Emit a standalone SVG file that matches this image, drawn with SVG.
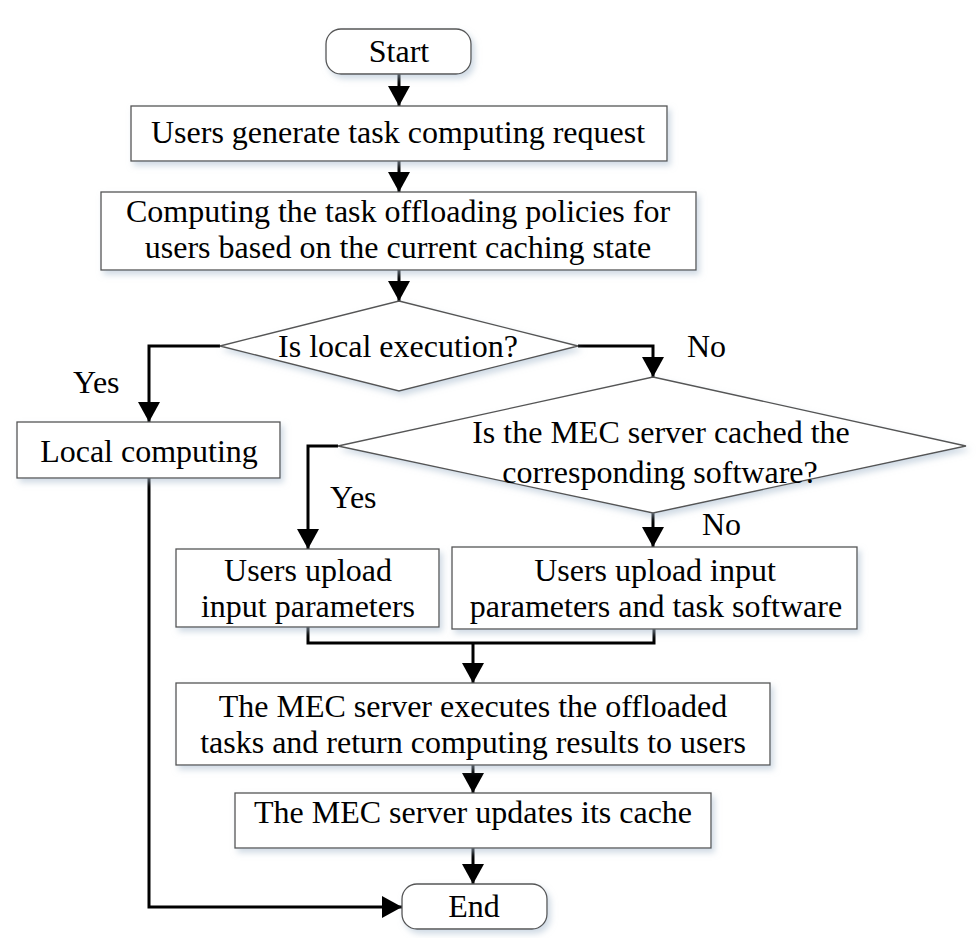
<svg xmlns="http://www.w3.org/2000/svg" width="977" height="938" viewBox="0 0 977 938">
<style>
.n{fill:#fff;stroke:#555;stroke-width:1.3;filter:url(#sh)}
.t{font-family:"Liberation Serif","Times New Roman",serif;font-size:32px;fill:#000;text-anchor:middle}
.l{font-family:"Liberation Serif","Times New Roman",serif;font-size:32px;fill:#000}
.c{fill:none;stroke:#000;stroke-width:3}
.a{marker-end:url(#ah)}
</style>
<defs>
<filter id="sh" x="-10%" y="-20%" width="120%" height="150%">
<feDropShadow dx="3" dy="4" stdDeviation="3" flood-color="#a9bccf" flood-opacity="0.55"/>
</filter>
<marker id="ah" markerUnits="userSpaceOnUse" markerWidth="20" markerHeight="22" refX="20" refY="11" orient="auto">
<path d="M0,0 L20,11 L0,22 Z" fill="#000"/>
</marker>
</defs>
<rect width="977" height="938" fill="#fff"/>
<g id="connectors">
<path class="c a" d="M399,74 V106"/>
<path class="c a" d="M399,161 V192"/>
<path class="c a" d="M399,270 V301"/>
<path class="c a" d="M220,346 H149 V422"/>
<path class="c a" d="M578,346 H653 V377"/>
<path class="c a" d="M338,446 H308 V549"/>
<path class="c a" d="M653,513 V547"/>
<path class="c" d="M308,627 V643 H654 V629"/>
<path class="c a" d="M473,643 V683"/>
<path class="c a" d="M473,765 V793"/>
<path class="c a" d="M473,848 V884"/>
<path class="c a" d="M149,478 V907 H402"/>
</g>
<g id="start"><rect class="n" x="326" y="29" width="145" height="45" rx="15"/><text class="t" x="399" y="62">Start</text></g>
<g id="generate"><rect class="n" x="131" y="106" width="536" height="55"/><text class="t" x="398" y="143">Users generate task computing request</text></g>
<g id="policies"><rect class="n" x="101" y="192" width="595" height="78"/><text class="t" x="398" y="222">Computing the task offloading policies for</text><text class="t" x="398" y="258">users based on the current caching state</text></g>
<g id="decision-local"><polygon class="n" points="399,301 578,346 399,391 220,346"/><text class="t" x="398" y="357">Is local execution?</text></g>
<g id="local-computing"><rect class="n" x="17" y="422" width="263" height="56"/><text class="t" x="149" y="462">Local computing</text></g>
<g id="decision-cache"><polygon class="n" points="653,377 966,446 653,513 338,446"/><text class="t" x="661" y="443">Is the MEC server cached the</text><text class="t" x="660" y="483">corresponding software?</text></g>
<g id="upload-params"><rect class="n" x="176" y="549" width="263" height="78"/><text class="t" x="308" y="581">Users upload</text><text class="t" x="308" y="617">input parameters</text></g>
<g id="upload-software"><rect class="n" x="452" y="547" width="405" height="82"/><text class="t" x="655" y="581">Users upload input</text><text class="t" x="656" y="617">parameters and task software</text></g>
<g id="execute"><rect class="n" x="176" y="683" width="594" height="82"/><text class="t" x="473" y="717">The MEC server executes the offloaded</text><text class="t" x="473" y="753">tasks and return computing results to users</text></g>
<g id="update"><rect class="n" x="235" y="793" width="476" height="55"/><text class="t" x="473" y="823">The MEC server updates its cache</text></g>
<g id="end"><rect class="n" x="402" y="884" width="145" height="45" rx="15"/><text class="t" x="474" y="917">End</text></g>
<g id="labels">
<text class="l" x="73" y="393">Yes</text>
<text class="l" x="687" y="357">No</text>
<text class="l" x="330" y="508">Yes</text>
<text class="l" x="702" y="535">No</text>
</g>
</svg>
